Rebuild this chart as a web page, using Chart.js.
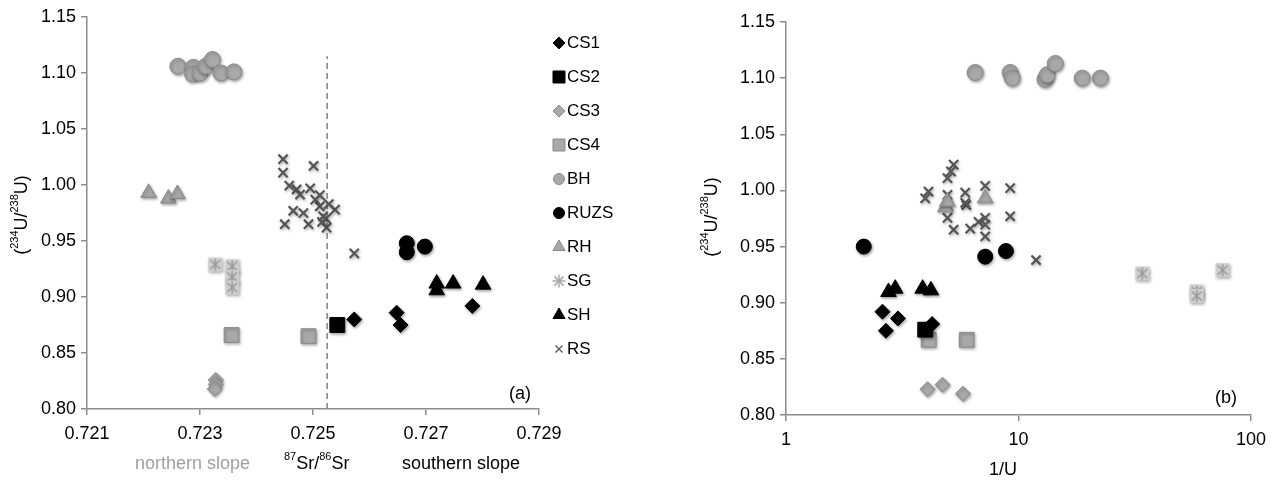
<!DOCTYPE html>
<html lang="en">
<head>
<meta charset="UTF-8">
<title>U and Sr isotopes</title>
<script src="https://cdn.jsdelivr.net/npm/chart.js"></script>
<style>
    body { margin: 0; background: #fff; }
    .box_a { position: absolute; left: 0; top: 0; width: 640px; height: 487px; }
    .box_b { position: absolute; left: 640px; top: 0; width: 634px; height: 487px; }
</style>
</head>
<body>
<div class="box_a"><canvas id="chartA"></canvas></div>
<div class="box_b"><canvas id="chartB"></canvas></div>
<script>
// groups, in legend order
const groups = ['CS1', 'CS2', 'CS3', 'CS4', 'BH', 'RUZS', 'RH', 'SG', 'SH', 'RS'];

// (a) 87Sr/86Sr vs (234U/238U)
const srTicks = [0.721, 0.723, 0.725, 0.727, 0.729];
const uTicks = [0.80, 0.85, 0.90, 0.95, 1.00, 1.05, 1.10, 1.15];
const dividerSr = 0.72525;
const dividerSpan = [0.80, 1.115];

const srCS1 = [[0.72573, 0.880], [0.72648, 0.886], [0.72655, 0.875], [0.72782, 0.892]];
const srCS2 = [[0.72543, 0.875]];
const srCS3 = [[0.72328, 0.826], [0.72328, 0.822], [0.72326, 0.818]];
const srCS4 = [[0.72356, 0.866], [0.72492, 0.865]];
const srBH = [[0.72261, 1.106], [0.72288, 1.105], [0.72287, 1.099], [0.72300, 1.100],
              [0.72310, 1.106], [0.72322, 1.112], [0.72337, 1.100], [0.72360, 1.101]];
const srRUZS = [[0.72666, 0.948], [0.72666, 0.940], [0.72698, 0.945]];
const srRH = [[0.72209, 0.993], [0.72244, 0.988], [0.72260, 0.992]];
const srSG = [[0.72327, 0.929], [0.72357, 0.9275], [0.72357, 0.918], [0.72357, 0.9085]];
const srSH = [[0.72719, 0.912], [0.72719, 0.906], [0.72748, 0.912], [0.72801, 0.911]];
const srRS = [[0.72447, 1.023], [0.72447, 1.011], [0.72501, 1.017], [0.72471, 0.996], [0.72495, 0.997],
              [0.72477, 0.9915], [0.72465, 0.977], [0.72450, 0.965], [0.72492, 0.965], [0.72512, 0.981],
              [0.72518, 0.972], [0.72524, 0.962], [0.72539, 0.978], [0.72483, 0.975], [0.72504, 0.987],
              [0.72512, 0.991], [0.72523, 0.970], [0.72516, 0.967], [0.72528, 0.983], [0.72573, 0.939],
              [0.72458, 0.9995]];

// (b) 1/U vs (234U/238U)
const invUTicks = [1, 10, 100];
const invCS1 = [[2.60, 0.892], [3.03, 0.886], [2.69, 0.875], [4.25, 0.881]];
const invCS2 = [[3.97, 0.876]];
const invCS3 = [[4.06, 0.823], [4.71, 0.827], [5.77, 0.819]];
const invCS4 = [[4.11, 0.867], [5.99, 0.867]];
const invBH = [[6.51, 1.105], [9.21, 1.105], [9.40, 1.100], [13.0, 1.099],
               [13.3, 1.103], [14.4, 1.113], [18.8, 1.100], [22.5, 1.100]];
const invRUZS = [[2.16, 0.950], [7.19, 0.941], [8.83, 0.946]];
const invRH = [[4.84, 0.985], [4.94, 0.990], [7.19, 0.993]];
const invSG = [[34.1, 0.926], [58.4, 0.910], [58.4, 0.906], [75.5, 0.929]];
const invSH = [[2.76, 0.9095], [2.95, 0.9125], [3.87, 0.9125], [4.20, 0.911]];
const invRS = [[5.26, 1.023], [5.12, 1.017], [4.95, 1.011], [4.10, 0.999], [3.97, 0.993], [4.95, 0.996],
               [5.90, 0.998], [5.96, 0.987], [7.19, 1.004], [9.21, 1.002], [9.21, 0.977], [4.95, 0.9755],
               [5.26, 0.965], [6.20, 0.966], [6.73, 0.972], [7.19, 0.9755], [7.19, 0.959], [7.19, 0.9695],
               [11.9, 0.938], [4.98, 0.986], [5.90, 0.989]];

const dadosA = [srCS1, srCS2, srCS3, srCS4, srBH, srRUZS, srRH, srSG, srSH, srRS];
const dadosB = [invCS1, invCS2, invCS3, invCS4, invBH, invRUZS, invRH, invSG, invSH, invRS];

const FONTE = '"Liberation Sans", Arial, sans-serif';
const cinza = '#a8a8a8';
const cinzaBorda = '#8a8a8a';

// SG marker: light square with an asterisk
function marcadorSG() {
    const c = document.createElement('canvas');
    c.width = 16; c.height = 16;
    const g = c.getContext('2d');
    g.fillStyle = '#cfcfcf';
    g.fillRect(1, 1, 14, 14);
    g.strokeStyle = '#999';
    g.lineWidth = 1.5;
    g.beginPath();
    g.moveTo(8, 2); g.lineTo(8, 14);
    g.moveTo(3, 3.5); g.lineTo(13, 12.5);
    g.moveTo(13, 3.5); g.lineTo(3, 12.5);
    g.stroke();
    return c;
}
const imgSG = marcadorSG();

const estilos = {
    CS1: { pointStyle: 'rectRot', r: 7.5, fill: '#000', border: '#000', bw: 1 },
    CS2: { pointStyle: 'rect', r: 10.5, fill: '#000', border: '#000', bw: 1 },
    CS3: { pointStyle: 'rectRot', r: 7.5, fill: cinza, border: cinzaBorda, bw: 1 },
    CS4: { pointStyle: 'rect', r: 10.5, fill: cinza, border: cinzaBorda, bw: 1 },
    BH: { pointStyle: 'circle', r: 8, fill: cinza, border: cinzaBorda, bw: 1 },
    RUZS: { pointStyle: 'circle', r: 7.5, fill: '#000', border: '#000', bw: 1 },
    RH: { pointStyle: 'triangle', r: 9, fill: cinza, border: cinzaBorda, bw: 1 },
    SG: { pointStyle: imgSG, r: 8, fill: cinza, border: cinzaBorda, bw: 1 },
    SH: { pointStyle: 'triangle', r: 9, fill: '#000', border: '#000', bw: 1 },
    RS: { pointStyle: 'crossRot', r: 6.5, fill: '#555', border: '#555', bw: 2.2 }
};

const legendaEstilos = {
    CS1: { pointStyle: 'rectRot', radius: 6, fill: '#000', border: '#000', bw: 1 },
    CS2: { pointStyle: 'rect', radius: 8.5, fill: '#000', border: '#000', bw: 1 },
    CS3: { pointStyle: 'rectRot', radius: 6, fill: cinza, border: cinzaBorda, bw: 1 },
    CS4: { pointStyle: 'rect', radius: 8.5, fill: cinza, border: cinzaBorda, bw: 1 },
    BH: { pointStyle: 'circle', radius: 5.5, fill: cinza, border: cinzaBorda, bw: 1 },
    RUZS: { pointStyle: 'circle', radius: 5.5, fill: '#000', border: '#000', bw: 1 },
    RH: { pointStyle: 'triangle', radius: 7, fill: cinza, border: cinzaBorda, bw: 1 },
    SG: { pointStyle: 'star', radius: 6.5, fill: '#aaa', border: '#aaa', bw: 1.5 },
    SH: { pointStyle: 'triangle', radius: 7, fill: '#000', border: '#000', bw: 1 },
    RS: { pointStyle: 'crossRot', radius: 5, fill: '#666', border: '#666', bw: 1.5 }
};

function montarDatasets(dados) {
    return groups.map(function (nome, i) {
        const e = estilos[nome];
        return {
            label: nome,
            data: dados[i].map(p => ({ x: p[0], y: p[1] })),
            pointStyle: e.pointStyle,
            pointRadius: e.r,
            backgroundColor: e.fill,
            borderColor: e.border,
            borderWidth: e.bw
        };
    });
}

// superscript-aware text
function textoRico(ctx, partes, x, y, alinhar, tamanho) {
    const fN = tamanho + 'px ' + FONTE;
    const fS = Math.round(tamanho * 0.62) + 'px ' + FONTE;
    let w = 0;
    partes.forEach(p => { ctx.font = p[1] ? fS : fN; w += ctx.measureText(p[0]).width; });
    let cx = alinhar === 'center' ? x - w / 2 : (alinhar === 'right' ? x - w : x);
    ctx.textAlign = 'left';
    ctx.textBaseline = 'middle';
    partes.forEach(p => {
        ctx.font = p[1] ? fS : fN;
        ctx.fillStyle = p[2] || '#000';
        ctx.fillText(p[0], cx, p[1] ? y - 7 : y);
        cx += ctx.measureText(p[0]).width;
    });
}

const tituloU = [['(', 0], ['234', 1], ['U/', 0], ['238', 1], ['U)', 0]];

const sombra = {
    id: 'sombra',
    beforeDatasetDraw(chart, args) {
        const ctx = chart.ctx;
        ctx.save();
        if (args.meta.label !== 'divisa') {
            ctx.shadowColor = 'rgba(0,0,0,0.35)';
            ctx.shadowBlur = 3;
            ctx.shadowOffsetX = 1;
            ctx.shadowOffsetY = 1.5;
        }
    },
    afterDatasetDraw(chart) {
        chart.ctx.restore();
    }
};

function eixo(min, max, pad, extra) {
    return Object.assign({
        min: min,
        max: max,
        border: { color: '#8c8c8c', width: 1.5 },
        grid: { drawOnChartArea: false, drawTicks: true, tickLength: 6, color: '#8c8c8c', lineWidth: 1.5 },
        ticks: { color: '#000', padding: pad, font: { family: FONTE, size: 18 } }
    }, extra || {});
}

const textosA = {
    id: 'textosA',
    afterDraw(chart) {
        const ctx = chart.ctx;
        ctx.save();
        ctx.translate(22, 215);
        ctx.rotate(-Math.PI / 2);
        textoRico(ctx, tituloU, 0, 0, 'center', 18);
        ctx.restore();

        ctx.save();
        textoRico(ctx, [['northern slope', 0, '#a0a0a0']], 250, 464, 'right', 18);
        textoRico(ctx, [['87', 1], ['Sr/', 0], ['86', 1], ['Sr', 0]], 284, 464, 'left', 18);
        textoRico(ctx, [['southern slope', 0]], 402, 464, 'left', 18);
        textoRico(ctx, [['(a)', 0]], 531, 394, 'right', 18);

        // legend
        groups.forEach(function (nome, i) {
            const e = legendaEstilos[nome];
            const y = 43 + i * 34;
            ctx.fillStyle = e.fill;
            ctx.strokeStyle = e.border;
            ctx.lineWidth = e.bw;
            Chart.helpers.drawPoint(ctx, { pointStyle: e.pointStyle, radius: e.radius, rotation: 0, borderWidth: e.bw }, 559, y);
            textoRico(ctx, [[nome, 0]], 567, y, 'left', 17);
        });
        ctx.restore();
    }
};

const textosB = {
    id: 'textosB',
    afterDraw(chart) {
        const ctx = chart.ctx;
        ctx.save();
        ctx.translate(72, 217);
        ctx.rotate(-Math.PI / 2);
        textoRico(ctx, tituloU, 0, 0, 'center', 18);
        ctx.restore();

        ctx.save();
        textoRico(ctx, [['1/U', 0]], 363, 470, 'center', 18);
        textoRico(ctx, [['(b)', 0]], 597, 398, 'right', 18);
        ctx.restore();
    }
};

const dsA = montarDatasets(dadosA);
dsA.push({
    label: 'divisa',
    data: dividerSpan.map(v => ({ x: dividerSr, y: v })),
    showLine: true,
    pointRadius: 0,
    borderColor: '#808080',
    borderWidth: 1.5,
    borderDash: [6, 4]
});

new Chart('chartA', {
    type: 'scatter',
    data: { datasets: dsA },
    options: {
        responsive: true,
        maintainAspectRatio: false,
        animation: false,
        layout: { padding: { top: 17, right: 101, left: 0, bottom: 0 } },
        plugins: { legend: { display: false }, tooltip: { enabled: false } },
        scales: {
            x: eixo(srTicks[0], srTicks[srTicks.length - 1], 8, {
                afterBuildTicks: s => { s.ticks = srTicks.map(v => ({ value: v })); },
                afterFit: s => { s.height = 78; }
            }),
            y: eixo(uTicks[0], uTicks[uTicks.length - 1], 5, {
                afterBuildTicks: s => { s.ticks = uTicks.map(v => ({ value: v })); },
                afterFit: s => { s.width = 87; }
            })
        }
    },
    plugins: [sombra, textosA]
});
Chart.getChart('chartA').options.scales.x.ticks.callback = v => v.toFixed(3);
Chart.getChart('chartA').options.scales.y.ticks.callback = v => v.toFixed(2);
Chart.getChart('chartA').update();

new Chart('chartB', {
    type: 'scatter',
    data: { datasets: montarDatasets(dadosB) },
    options: {
        responsive: true,
        maintainAspectRatio: false,
        animation: false,
        layout: { padding: { top: 22, right: 23, left: 0, bottom: 0 } },
        plugins: { legend: { display: false }, tooltip: { enabled: false } },
        scales: {
            x: eixo(invUTicks[0], invUTicks[invUTicks.length - 1], 8, {
                type: 'logarithmic',
                afterBuildTicks: s => { s.ticks = invUTicks.map(v => ({ value: v })); },
                afterFit: s => { s.height = 72; }
            }),
            y: eixo(uTicks[0], uTicks[uTicks.length - 1], 5, {
                afterBuildTicks: s => { s.ticks = uTicks.map(v => ({ value: v })); },
                afterFit: s => { s.width = 146; }
            })
        }
    },
    plugins: [sombra, textosB]
});
Chart.getChart('chartB').options.scales.x.ticks.callback = v => String(v);
Chart.getChart('chartB').options.scales.y.ticks.callback = v => v.toFixed(2);
Chart.getChart('chartB').update();
</script>
</body>
</html>
